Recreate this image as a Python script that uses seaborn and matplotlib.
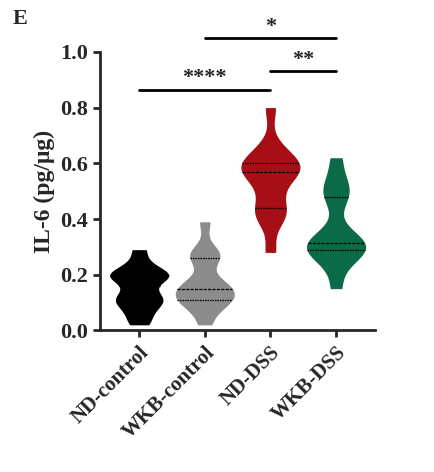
import matplotlib
matplotlib.use("Agg")
import matplotlib.pyplot as plt
import seaborn as sns
import pandas as pd

groups = ["ND-control", "WKB-control", "ND-DSS", "WKB-DSS"]
nd_control = [0.02, 0.05, 0.08, 0.10, 0.11, 0.12, 0.14, 0.18, 0.19, 0.20, 0.20, 0.21, 0.24, 0.29]
wkb_control = [0.02, 0.08, 0.10, 0.11, 0.12, 0.14, 0.15, 0.16, 0.18, 0.26, 0.27, 0.28, 0.39]
nd_dss = [0.28, 0.40, 0.42, 0.44, 0.50, 0.55, 0.57, 0.58, 0.59, 0.60, 0.62, 0.66, 0.80]
wkb_dss = [0.15, 0.25, 0.28, 0.29, 0.30, 0.31, 0.32, 0.34, 0.47, 0.50, 0.53, 0.62]
colors = ["#000000", "#8c8c8c", "#a50f15", "#0b6b46"]

df = pd.DataFrame({
    "group": sum([[g] * len(v) for g, v in zip(groups, [nd_control, wkb_control, nd_dss, wkb_dss])], []),
    "val": nd_control + wkb_control + nd_dss + wkb_dss,
})

sns.set_style("ticks")
plt.rcParams["font.family"] = ["Liberation Serif", "DejaVu Serif"]
plt.rcParams["font.weight"] = "bold"

fig = plt.figure(figsize=(4.34, 4.72), dpi=100)
ax = fig.add_axes([0.23, 0.30, 0.635, 0.59])
sns.violinplot(data=df, x="group", y="val", hue="group", palette=colors, order=groups,
               cut=0, bw_adjust=0.6, inner="quart", linewidth=0, width=0.9,
               density_norm="width", legend=False, ax=ax,
               inner_kws=dict(color="black", linewidth=0.9), saturation=1)
ax.set_ylim(0, 1.0)
ax.set_yticks([0, 0.2, 0.4, 0.6, 0.8, 1.0])
ax.set_yticklabels(["0.0", "0.2", "0.4", "0.6", "0.8", "1.0"], fontsize=16, fontweight="bold")
ax.set_xticks(range(4))
ax.set_xticklabels(groups, rotation=45, ha="right", rotation_mode="anchor", fontsize=15, fontweight="bold")
ax.set_xlabel("")
ax.set_ylabel("IL-6 (pg/μg)", fontsize=17, fontweight="bold")
for s in ["top", "right"]:
    ax.spines[s].set_visible(False)
for s in ["left", "bottom"]:
    ax.spines[s].set_linewidth(2)
ax.tick_params(width=2, length=5)
ax.set_xlim(-0.6, 3.6)

def sig(x1, x2, y, txt):
    ax.plot([x1, x2], [y, y], color="black", lw=2, clip_on=False)
    ax.text((x1 + x2) / 2, y + 0.005, txt, ha="center", va="bottom", fontsize=16, fontweight="bold")

sig(0, 2, 0.865, "****")
sig(2, 3, 0.93, "**")
sig(1, 3, 1.05, "*")
fig.text(0.03, 0.95, "E", fontsize=16, fontweight="bold")
fig.savefig("out.png", dpi=100)
